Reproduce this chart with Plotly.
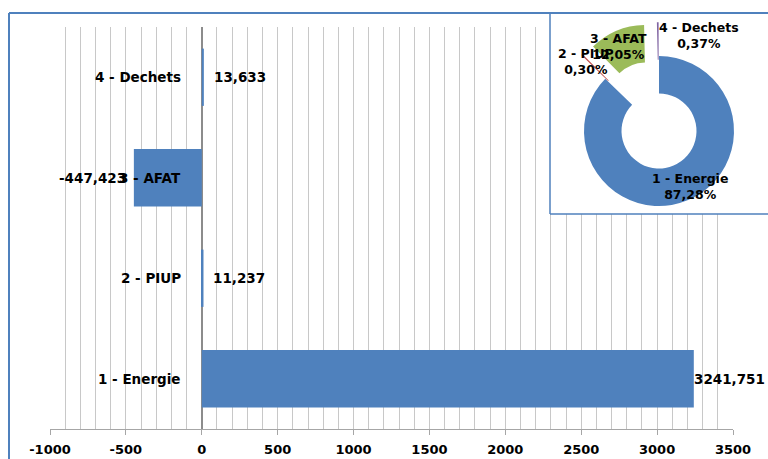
import plotly.graph_objects as go

# Emissions by sector (kt CO2e)
categories = ["1 - Energie", "2 - PIUP", "3 - AFAT", "4 - Dechets"]
values = [3241.751, 11.237, -447.423, 13.633]
slice_colors = ["#4F81BD", "#C0504D", "#9BBB59", "#8064A2"]
tick_values = [-1000, -500, 0, 500, 1000, 1500, 2000, 2500, 3000, 3500]
tick_labels = ["-1000", "-500", "0", "500", "1000", "1500", "2000", "2500", "3000", "3500"]

W, H = 768, 459
ML, MR, MT, MB = 50, 0, 0, 30
PW, PH = W - ML - MR, H - MT - MB
BAR_LEFT, BAR_RIGHT, BAR_TOP = 50, 733, 27
XMIN, XMAX = -1000, 3500
FONT = "DejaVu Sans"
FRAME = "#4F81BD"


def fx(px):
    return (px - ML) / PW


def fy(py):
    return (PH + MT - py) / PH


def xdata(px):
    return XMIN + (px - BAR_LEFT) / (BAR_RIGHT - BAR_LEFT) * (XMAX - XMIN)


def ydata(py):
    return -0.5 + (PH + MT - py) / (PH + MT - BAR_TOP) * len(categories)


def fmt_num(v):
    return f"{v:.3f}".replace(".", ",")


abs_vals = [abs(v) for v in values]
total = sum(abs_vals)
pcts = [a / total * 100 for a in abs_vals]

fig = go.Figure()

fig.add_trace(go.Bar(
    y=categories, x=values, orientation="h",
    marker=dict(color="#4F81BD", line=dict(width=0)),
    showlegend=False, hoverinfo="skip",
))

# Donut inset (absolute shares); minor sectors exploded
PULL = 0.45
cx, cy, radius = 659, 131, 75
half = radius * (1 + PULL)
fig.add_trace(go.Pie(
    labels=categories, values=abs_vals, sort=False,
    direction="clockwise", rotation=0, hole=0.5,
    pull=[0, PULL, PULL, PULL],
    marker=dict(colors=slice_colors, line=dict(width=0)),
    textinfo="none", showlegend=False, hoverinfo="skip",
    domain=dict(x=[fx(cx - half), min(1.0, fx(cx + half))],
                y=[fy(cy + half), fy(cy - half)]),
))

bold = dict(family=FONT, size=13.5, color="#000000", weight="bold")
annotations = []

# Category names sit just left of the zero axis
for cat in categories:
    annotations.append(dict(
        x=0, y=cat, xref="x", yref="y", text=cat, showarrow=False,
        xanchor="right", xshift=-19, font=bold,
    ))

# Value labels at bar ends
value_label_xshift = {"1 - Energie": -2}
for cat, v in zip(categories, values):
    shift = value_label_xshift.get(cat, 8)
    annotations.append(dict(
        x=v, y=cat, xref="x", yref="y", text=fmt_num(v), showarrow=False,
        xanchor="left" if v >= 0 else "right",
        xshift=shift if v >= 0 else -6, font=bold,
    ))

# Donut labels
pie_label_pos = {
    "1 - Energie": (690, 186),
    "2 - PIUP": (586, 62),
    "3 - AFAT": (618, 46),
    "4 - Dechets": (699, 35),
}
pie_font = dict(family=FONT, size=12.5, color="#000000", weight="bold")
for cat, p in zip(categories, pcts):
    px_, py_ = pie_label_pos[cat]
    annotations.append(dict(
        x=fx(px_), y=fy(py_), xref="paper", yref="paper",
        text=f"{cat}<br>{p:.2f}%".replace(".", ","), showarrow=False,
        xanchor="center", yanchor="middle", align="center", font=pie_font,
    ))

shapes = [
    # white inset panel hiding gridlines
    dict(type="rect", xref="x", yref="y", layer="between",
         x0=xdata(550), x1=XMAX + 500, y0=ydata(214), y1=4.5,
         fillcolor="white", line=dict(width=0)),
    # inset border
    dict(type="line", xref="paper", yref="paper", layer="above",
         x0=fx(550), x1=fx(550), y0=fy(13), y1=fy(214),
         line=dict(color=FRAME, width=1.5)),
    dict(type="line", xref="paper", yref="paper", layer="above",
         x0=fx(550), x1=fx(770), y0=fy(214), y1=fy(214),
         line=dict(color=FRAME, width=1.5)),
    # chart frame
    dict(type="line", xref="paper", yref="paper", layer="above",
         x0=fx(9), x1=fx(9), y0=fy(13), y1=fy(462),
         line=dict(color=FRAME, width=2)),
    dict(type="line", xref="paper", yref="paper", layer="above",
         x0=fx(9), x1=fx(770), y0=fy(13), y1=fy(13),
         line=dict(color=FRAME, width=2)),
]

fig.update_layout(
    width=W, height=H, autosize=False,
    margin=dict(l=ML, r=MR, t=MT, b=MB, pad=0, autoexpand=False),
    paper_bgcolor="white", plot_bgcolor="white",
    bargap=0.43,
    annotations=annotations, shapes=shapes,
    xaxis=dict(
        domain=[0, fx(BAR_RIGHT)], range=[XMIN, XMAX],
        tickvals=tick_values, ticktext=tick_labels,
        tickfont=dict(family=FONT, size=13, color="#000000", weight="bold"),
        showgrid=True, gridcolor="#C8C8C8", gridwidth=1,
        minor=dict(dtick=100, showgrid=True, gridcolor="#C8C8C8", gridwidth=1),
        zeroline=True, zerolinecolor="#8C8C8C", zerolinewidth=1.5,
        showline=True, linecolor="#A6A6A6", linewidth=1,
        ticks="outside", ticklen=5, tickcolor="#A6A6A6",
        ticklabelstandoff=3, automargin=False, fixedrange=True,
    ),
    yaxis=dict(
        domain=[0, fy(BAR_TOP)], range=[-0.5, len(categories) - 0.5],
        showticklabels=False, showgrid=False, zeroline=False,
        showline=False, ticks="", automargin=False, fixedrange=True,
    ),
)

fig.write_html("out.html")
